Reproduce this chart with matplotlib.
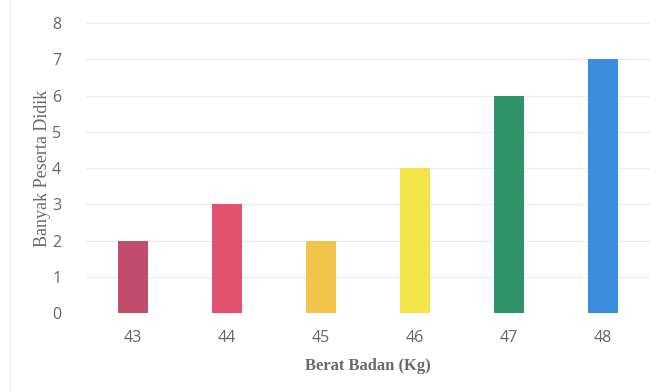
import matplotlib.pyplot as plt

# Data
berat = ['43', '44', '45', '46', '47', '48']
jumlah = [2, 3, 2, 4, 6, 7]
warna = ['#c24c6c', '#e2526e', '#f3c44c', '#f3e44a', '#2f9468', '#3b8de0']

fig = plt.figure(figsize=(6.58, 3.92), dpi=100)
ax = fig.add_axes([0.131, 0.2015, 0.857, 0.7395])

x = range(len(berat))
ax.bar(x, jumlah, width=0.32, color=warna, zorder=3)

ax.set_xlim(-0.5, len(berat) - 0.5)
ax.set_ylim(0, 8)
ax.set_xticks(list(x))
ax.set_xticklabels(berat)
ax.set_yticks(range(0, 9))

for s in ax.spines.values():
    s.set_visible(False)
ax.grid(axis='y', color='#ececec', linewidth=0.8, zorder=0)
ax.tick_params(length=0, labelsize=11.5, colors='#666666', labelfontfamily='Open Sans')
ax.tick_params(axis='x', pad=12)
ax.tick_params(axis='y', pad=18)

ax.set_xlabel('Berat Badan (Kg)', family='Liberation Serif', fontsize=12,
              fontweight='bold', color='#6a6a6a', labelpad=9)
ax.set_ylabel('Banyak Peserta Didik', family='Liberation Serif', fontsize=13,
              color='#6a6a6a', labelpad=1)

# faint chart border
fig.add_artist(plt.Line2D([0.015, 0.015], [0.0, 1.0], color='#eeeeee', linewidth=0.8))

fig.savefig('out.png', dpi=100)
